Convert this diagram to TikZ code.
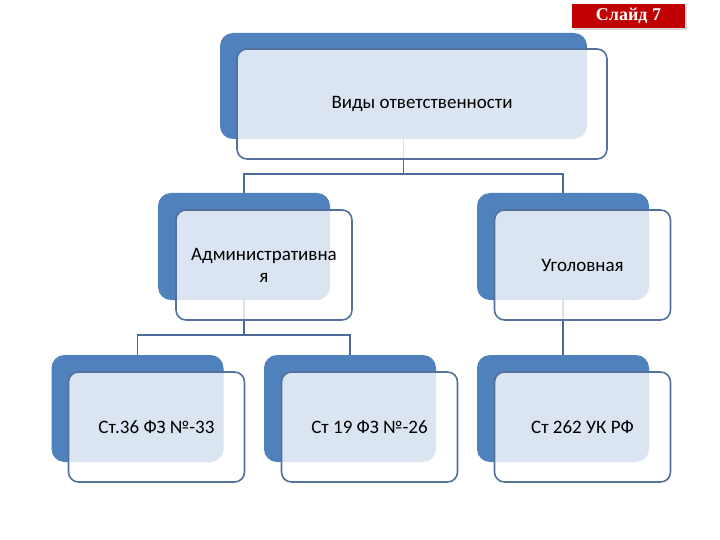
\documentclass[tikz,border=0pt]{standalone}
\usepackage{fontspec}
\setmainfont{Carlito}
\newfontfamily\badgefont{Liberation Serif}
\usepackage{xcolor}
\usepackage{tikz}
\usetikzlibrary{positioning,calc,backgrounds}
\definecolor{backblue}{RGB}{79,129,189}
\definecolor{edgeblue}{RGB}{84,113,158}
\definecolor{linkblue}{RGB}{74,106,153}
\definecolor{slidered}{RGB}{192,0,0}
\tikzset{
  backbox/.style ={fill=backblue, rounded corners=13pt, inner sep=0pt,
                   minimum width=172pt, minimum height=107pt},
  frontbox/.style={draw=edgeblue, line width=1.6pt, fill=white, fill opacity=0.8,
                   text opacity=1, rounded corners=10pt, align=center, inner sep=2pt,
                   minimum width=176pt, minimum height=110pt,
                   font=\fontsize{19}{22}\selectfont},
  link/.style    ={draw=linkblue, line width=1.5pt},
}
\begin{document}
\begin{tikzpicture}[x=1pt,y=-1pt]
\useasboundingbox (0,0) rectangle (720,540);

% top level
\node[backbox,minimum width=367pt,minimum height=106pt] (vidyB) at (403.5,86) {};
\node[frontbox,minimum width=370pt] (vidy) at (422,104) {Виды ответственности};

% second level
\node[backbox] (admB) at (244,246.5) {};
\node[frontbox] (adm) at (264,265) {Административна\\я};
\node[backbox] (ugolB) at (563,246.5) {};
\node[frontbox] (ugol) at (582.5,265) {Уголовная};

% third level
\node[backbox] (st36B) at (137.5,408.5) {};
\node[frontbox] (st36) at (156.5,427) {Ст.36 ФЗ №-33};
\node[backbox] (st19B) at (350,408.5) {};
\node[frontbox] (st19) at (369.5,427) {Ст 19 ФЗ №-26};
\node[backbox] (st262B) at (563,408.5) {};
\node[frontbox] (st262) at (582.5,427) {Ст 262 УК РФ};

% slide badge
\node[fill=black!15, minimum width=113pt, minimum height=24pt, inner sep=0pt] (badgeS) at (630,18) {};
\node[fill=slidered, text=white, minimum width=113pt, minimum height=24pt, inner sep=0pt,
      font=\badgefont\bfseries\fontsize{18}{20}\selectfont] (badge) at (628.5,16) {Слайд 7};

\begin{scope}[on background layer]
\fill[white] (0,0) rectangle (720,540);
\draw[link] (vidyB.south) -- ++(0,35) -| (admB.north);
\draw[link] (vidyB.south) -- ++(0,35) -| (ugolB.north);
\draw[link] (admB.south) -- ++(0,35) -| (st36B.north);
\draw[link] (admB.south) -- ++(0,35) -| (st19B.north);
\draw[link] (ugolB.south) -- (st262B.north);
\end{scope}
\end{tikzpicture}
\end{document}
